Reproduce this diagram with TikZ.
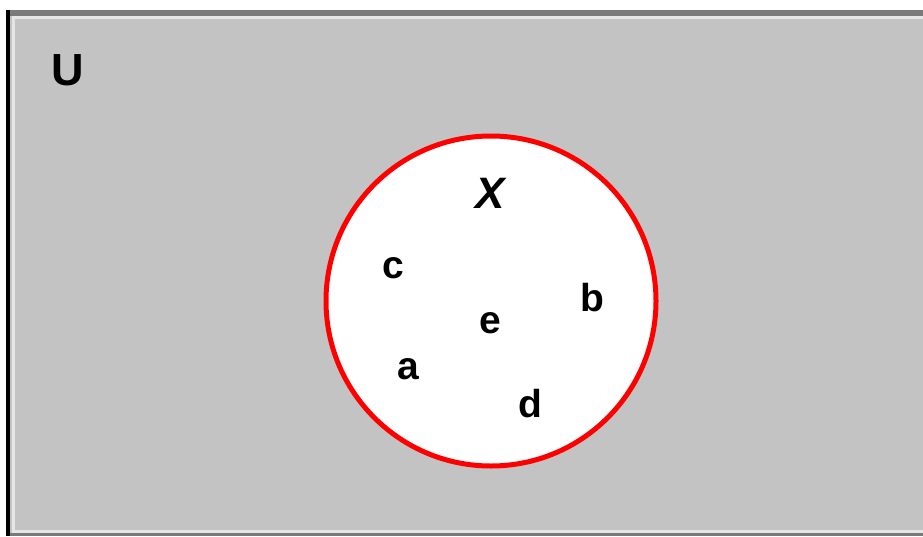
\documentclass[tikz,border=0pt]{standalone}
\usepackage{fontspec}
\setmainfont{Liberation Sans}
\definecolor{ugray}{HTML}{C3C3C3}
\definecolor{edgegray}{HTML}{7A7A7A}
\definecolor{edgelight}{HTML}{E6E6E6}
\definecolor{setred}{HTML}{FF0000}
\begin{document}
\begin{tikzpicture}[x=1pt,y=-1pt,
  elem/.style={font=\fontsize{39}{39}\selectfont\bfseries, inner sep=0pt},
  ulabel/.style={font=\fontsize{45}{45}\selectfont\bfseries, inner sep=0pt},
  setlabel/.style={font=\fontsize{44}{44}\selectfont\bfseries\itshape, inner sep=0pt}]
\useasboundingbox (0,0) rectangle (923,536);
\fill[white] (0,0) rectangle (923,536);
% universe
\fill[ugray] (6,10) rectangle (923,536);
\fill[edgegray] (6,10) rectangle (923,16);
\fill[edgelight] (12,16) rectangle (923,19);
\fill[edgelight] (12,16) rectangle (15,531);
\fill[edgelight] (12,530) rectangle (923,533);
\fill[edgegray] (6,533) rectangle (923,536);
\fill[black] (6,10) rectangle (10,536);
\node[ulabel] (U) at (68,70) {U};
% set X
\node[circle, draw=setred, line width=5pt, fill=white, minimum size=330pt, inner sep=0pt] (X) at (491,301) {};
\node[setlabel] (Xl) at (490,193) {X};
\node[elem] (c) at (393,268) {c};
\node[elem] (b) at (592,298) {b};
\node[elem] (e) at (490,323) {e};
\node[elem] (a) at (408,369) {a};
\node[elem] (d) at (530,404) {d};
\end{tikzpicture}
\end{document}
